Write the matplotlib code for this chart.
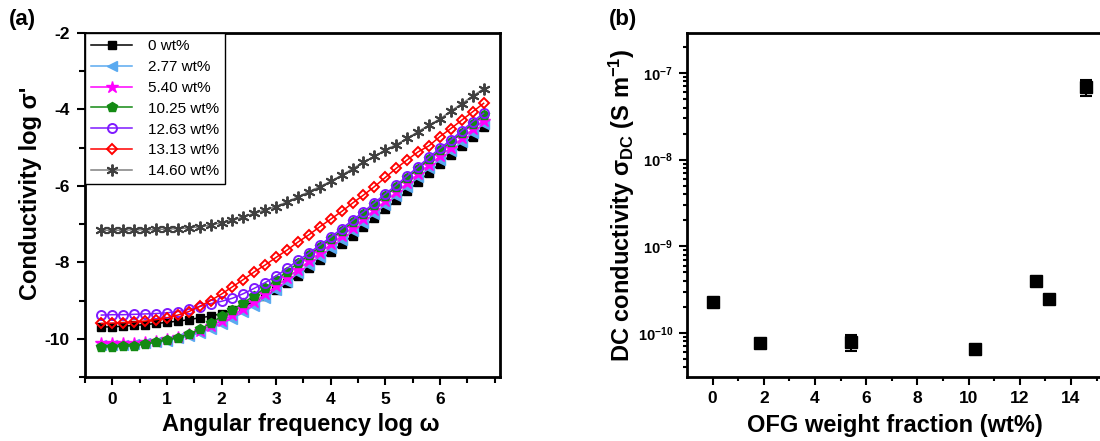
import matplotlib
matplotlib.use("Agg")
import matplotlib.pyplot as plt
from matplotlib.ticker import FixedLocator, FuncFormatter, NullFormatter

plt.rcParams['font.family'] = ['Liberation Sans', 'DejaVu Sans']
plt.rcParams['font.weight'] = 'bold'
plt.rcParams['axes.unicode_minus'] = False
plt.rcParams['mathtext.fontset'] = 'custom'
plt.rcParams['mathtext.rm'] = 'Liberation Sans:bold'
plt.rcParams['mathtext.bf'] = 'Liberation Sans:bold'
plt.rcParams['mathtext.it'] = 'Liberation Sans:bold'
plt.rcParams['mathtext.default'] = 'bf'

# ---------------- data: panel (a) ----------------
log_omega = [-0.2, 0.0, 0.2, 0.4, 0.6, 0.8, 1.0, 1.2, 1.4, 1.6, 1.8, 2.0,
             2.2, 2.4, 2.6, 2.8, 3.0, 3.2, 3.4, 3.6, 3.8, 4.0, 4.2, 4.4,
             4.6, 4.8, 5.0, 5.2, 5.4, 5.6, 5.8, 6.0, 6.2, 6.4, 6.6, 6.8]

s_0 = [-9.69, -9.69, -9.67, -9.65, -9.63, -9.60, -9.57, -9.54, -9.50, -9.45, -9.41, -9.34,
       -9.26, -9.15, -9.02, -8.88, -8.72, -8.54, -8.35, -8.15, -7.95, -7.74, -7.52, -7.30,
       -7.08, -6.84, -6.61, -6.38, -6.14, -5.90, -5.65, -5.42, -5.19, -4.95, -4.71, -4.47]
s_277 = [-10.16, -10.16, -10.15, -10.14, -10.12, -10.09, -10.05, -9.99, -9.93, -9.85, -9.74, -9.61,
         -9.47, -9.31, -9.13, -8.94, -8.73, -8.51, -8.29, -8.07, -7.85, -7.63, -7.41, -7.19,
         -6.96, -6.73, -6.49, -6.26, -6.02, -5.78, -5.54, -5.31, -5.08, -4.85, -4.61, -4.38]
s_540 = [-10.12, -10.12, -10.11, -10.10, -10.08, -10.05, -10.01, -9.95, -9.88, -9.79, -9.67, -9.53,
         -9.38, -9.22, -9.04, -8.84, -8.63, -8.41, -8.19, -7.97, -7.75, -7.53, -7.31, -7.09,
         -6.87, -6.63, -6.40, -6.17, -5.93, -5.69, -5.45, -5.22, -5.00, -4.76, -4.52, -4.29]
s_1025 = [-10.21, -10.21, -10.20, -10.18, -10.14, -10.09, -10.03, -9.97, -9.87, -9.75, -9.60, -9.41,
          -9.24, -9.06, -8.87, -8.67, -8.46, -8.24, -8.02, -7.81, -7.60, -7.39, -7.17, -6.95,
          -6.73, -6.49, -6.26, -6.03, -5.79, -5.55, -5.30, -5.07, -4.85, -4.61, -4.37, -4.15]
s_1263 = [-9.38, -9.37, -9.37, -9.36, -9.35, -9.34, -9.32, -9.29, -9.23, -9.16, -9.08, -9.02,
          -8.94, -8.82, -8.68, -8.53, -8.36, -8.16, -7.95, -7.76, -7.55, -7.34, -7.12, -6.90,
          -6.68, -6.44, -6.21, -5.98, -5.74, -5.50, -5.25, -5.02, -4.80, -4.56, -4.32, -4.10]
s_1313 = [-9.60, -9.59, -9.58, -9.56, -9.54, -9.50, -9.45, -9.38, -9.29, -9.15, -9.00, -8.83,
          -8.64, -8.45, -8.25, -8.07, -7.87, -7.68, -7.47, -7.28, -7.07, -6.87, -6.67, -6.45,
          -6.24, -6.02, -5.78, -5.54, -5.32, -5.11, -4.95, -4.71, -4.50, -4.28, -4.06, -3.84]
s_1460 = [-7.16, -7.16, -7.16, -7.15, -7.15, -7.14, -7.13, -7.12, -7.10, -7.07, -7.03, -6.96,
          -6.90, -6.81, -6.72, -6.63, -6.54, -6.42, -6.29, -6.15, -6.02, -5.88, -5.72, -5.55,
          -5.38, -5.23, -5.06, -4.92, -4.76, -4.58, -4.41, -4.25, -4.04, -3.85, -3.65, -3.46]

labels_a = ['0 wt%', '2.77 wt%', '5.40 wt%', '10.25 wt%', '12.63 wt%', '13.13 wt%', '14.60 wt%']

# ---------------- data: panel (b) ----------------
ofg_wt = [0.0, 1.85, 5.40, 10.25, 12.63, 13.13, 14.60]
sigma_dc = [2.29e-10, 7.7e-11, 7.8e-11, 6.45e-11, 4.0e-10, 2.47e-10, 6.9e-8]
sigma_err = [0.15e-10, 0.5e-11, 1.6e-11, 0.7e-11, 0.45e-10, 0.15e-10, 1.5e-8]
b_xticks = [0, 2, 4, 6, 8, 10, 12, 14]
b_yticks = [1e-10, 1e-9, 1e-8, 1e-7]
b_ytick_labels = [r'$\mathbf{10^{-10}}$', r'$\mathbf{10^{-9}}$', r'$\mathbf{10^{-8}}$', r'$\mathbf{10^{-7}}$']

# ---------------- figure ----------------
fig = plt.figure(figsize=(11, 4.41), dpi=100)
axa = fig.add_axes([85/1100, 1 - 377/441, 415/1100, 344/441])
axb = fig.add_axes([687/1100, 1 - 377/441, 416/1100, 344/441])

styles = [
    dict(color='#000000', marker='s', mfc='#000000', mec='#000000', ms=6),
    dict(color='#5aaaf0', marker='<', mfc='#5aaaf0', mec='#5aaaf0', ms=7),
    dict(color='#ff00ff', marker='*', mfc='#ff00ff', mec='#ff00ff', ms=9),
    dict(color='#138a13', marker='p', mfc='#138a13', mec='#138a13', ms=7.5),
    dict(color='#7f1aff', marker='o', mfc='none', mec='#7f1aff', ms=6.5, mew=1.4),
    dict(color='#ff0000', marker='D', mfc='none', mec='#ff0000', ms=5.5, mew=1.4),
    dict(color='#808080', marker=(6, 2, 0), mfc='#404040', mec='#404040', ms=8.5, mew=1.4),
]
series = [s_0, s_277, s_540, s_1025, s_1263, s_1313, s_1460]
for ys, lab, st in zip(series, labels_a, styles):
    axa.plot(log_omega, ys, lw=1.1, label=lab, **st)

axa.set_xlim(-0.5, 7.1)
axa.set_ylim(-11, -2)
axa.xaxis.set_major_locator(FixedLocator([0, 1, 2, 3, 4, 5, 6]))
axa.xaxis.set_minor_locator(FixedLocator([-0.5, 0.5, 1.5, 2.5, 3.5, 4.5, 5.5, 6.5, 7]))
axa.yaxis.set_major_locator(FixedLocator([-2, -4, -6, -8, -10]))
axa.yaxis.set_minor_locator(FixedLocator([-3, -5, -7, -9, -11]))
axa.tick_params(which='both', direction='out', top=False, right=False, labelsize=12.5, width=1.5)
axa.tick_params(which='major', length=6, pad=5)
axa.tick_params(which='minor', length=4)
axa.set_xlabel('Angular frequency log ω', fontsize=17, fontweight='bold')
axa.set_ylabel("Conductivity log σ'", fontsize=17, fontweight='bold')
axa.xaxis.set_label_coords(0.52, -0.105)
axa.yaxis.set_label_coords(-0.104, 0.533)
for sp in axa.spines.values():
    sp.set_linewidth(2)

leg = axa.legend(loc='upper left', borderaxespad=0, frameon=True,
                 fancybox=False, edgecolor='black', framealpha=1, handlelength=2.7,
                 handletextpad=1.0, labelspacing=0.45, borderpad=0.4,
                 prop={'family': 'Liberation Sans', 'weight': 'normal', 'size': 11})
leg.get_frame().set_linewidth(1.0)

# ---------------- panel (b) ----------------
axb.errorbar(ofg_wt, sigma_dc, yerr=sigma_err, fmt='s', color='black', ms=8.5,
             capsize=4, elinewidth=1.5, capthick=1.5)
axb.set_yscale('log')
axb.set_xlim(-1, 15.25)
axb.set_ylim(3.1e-11, 2.9e-7)
axb.xaxis.set_major_locator(FixedLocator(b_xticks))
axb.xaxis.set_minor_locator(FixedLocator([1, 3, 5, 7, 9, 11, 13, 15]))
minor_y = [m * d for d in [1e-11, 1e-10, 1e-9, 1e-8, 1e-7] for m in range(2, 10)
           if 3.1e-11 <= m * d <= 2.9e-7]
axb.yaxis.set_major_locator(FixedLocator(b_yticks))
axb.yaxis.set_minor_locator(FixedLocator(minor_y))
axb.yaxis.set_major_formatter(FuncFormatter(lambda v, p: b_ytick_labels[p] if p is not None and p < len(b_ytick_labels) else ''))
axb.yaxis.set_minor_formatter(NullFormatter())
axb.tick_params(which='both', direction='out', top=False, right=False, labelsize=12.5, width=1.5)
axb.tick_params(axis='y', labelsize=10.5)
axb.tick_params(which='major', length=6, pad=4)
axb.tick_params(which='minor', length=3)
axb.set_xlabel('OFG weight fraction (wt%)', fontsize=17, fontweight='bold', labelpad=6)
axb.set_ylabel(r'DC conductivity σ$_{\mathbf{DC}}$ (S m$^{\mathbf{-1}}$)', fontsize=17,
               fontweight='bold')
axb.yaxis.set_label_coords(-0.12, 0.5)
for sp in axb.spines.values():
    sp.set_linewidth(2)

fig.text(9/1100, 1 - 20/441, '(a)', fontsize=16, fontweight='bold', va='center', ha='left')
fig.text(609/1100, 1 - 20/441, '(b)', fontsize=16, fontweight='bold', va='center', ha='left')

fig.savefig('out.png', dpi=100)
